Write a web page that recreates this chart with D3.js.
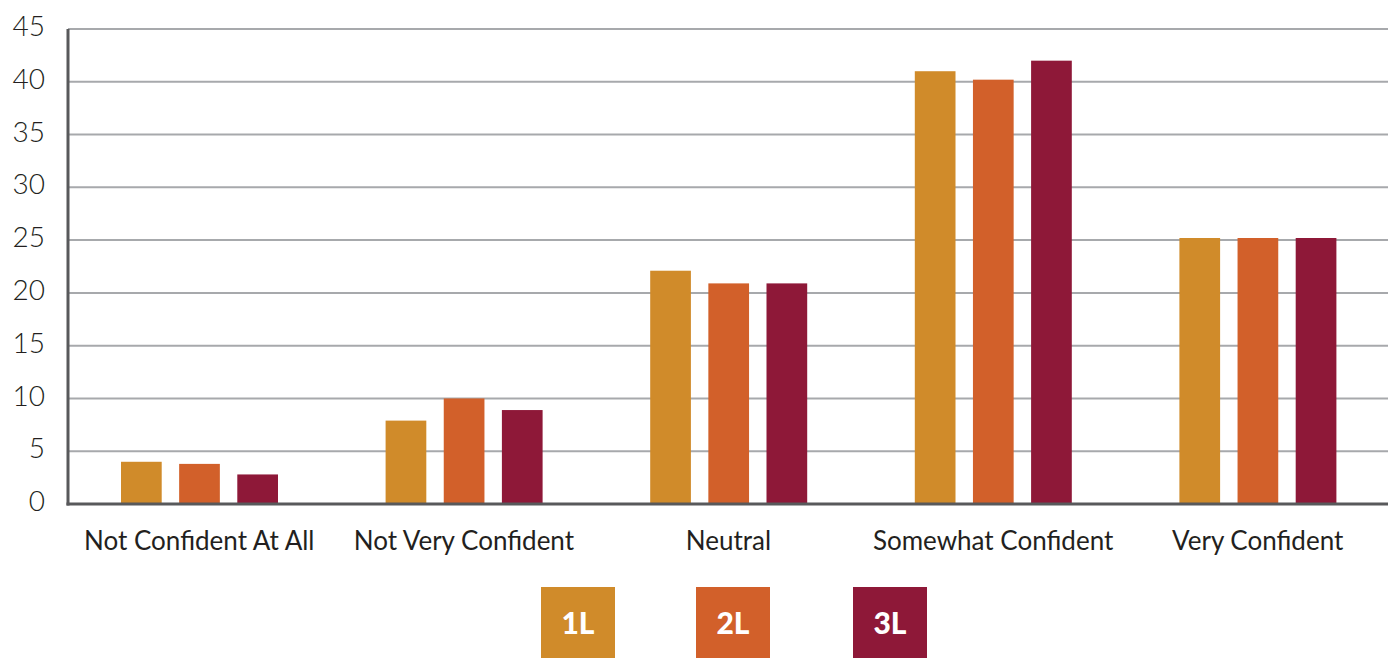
<!DOCTYPE html>
<html>
<head>
<meta charset="utf-8">
<script src="https://cdn.jsdelivr.net/npm/d3@7"></script>
<style>
  body { margin: 0; background: #fff; }
  text { font-family: Lato, "Open Sans", sans-serif; fill: #231f20; }
</style>
</head>
<body>
<div id="chart"></div>
<script>
var width = 1395;
var height = 658;

var categories = ["Not Confident At All", "Not Very Confident", "Neutral", "Somewhat Confident", "Very Confident"];
var series = ["1L", "2L", "3L"];
var colors = ["#d08b2a", "#d2602a", "#8e1838"];
var values1L = [4.0, 7.9, 22.1, 41.0, 25.2];
var values2L = [3.8, 10.0, 20.9, 40.2, 25.2];
var values3L = [2.8, 8.9, 20.9, 42.0, 25.2];
var yTicks = [0, 5, 10, 15, 20, 25, 30, 35, 40, 45];

var seriesValues = [values1L, values2L, values3L];

var margin = { top: 29, left: 68, right: 7, bottom: 154 };

var x0 = d3.scaleBand()
  .domain(categories)
  .range([margin.left, width - 4]);

var x1 = d3.scaleBand()
  .domain(series)
  .range([53, 210])
  .paddingInner(0.3);

var y = d3.scaleLinear()
  .domain([0, 45])
  .range([height - margin.bottom, margin.top]);

var color = d3.scaleOrdinal().domain(series).range(colors);

var svg = d3.select("#chart").append("svg")
  .attr("width", width)
  .attr("height", height);

// gridlines
svg.append("g")
  .selectAll("line")
  .data(yTicks.filter(function(d) { return d > 0; }))
  .enter().append("line")
  .attr("x1", margin.left)
  .attr("x2", width - margin.right)
  .attr("y1", function(d) { return y(d); })
  .attr("y2", function(d) { return y(d); })
  .attr("stroke", "#a7a9ac")
  .attr("stroke-width", 2);

// y tick labels
svg.append("g")
  .selectAll("text")
  .data(yTicks)
  .enter().append("text")
  .attr("x", 45)
  .attr("y", function(d) { return y(d) - 3; })
  .attr("dy", "0.36em")
  .attr("text-anchor", "end")
  .style("font-size", "28px")
  .style("font-weight", "300")
  .text(function(d) { return d; });

// bars
var groups = svg.append("g")
  .selectAll("g")
  .data(categories)
  .enter().append("g")
  .attr("transform", function(d) { return "translate(" + x0(d) + ",0)"; });

groups.selectAll("rect")
  .data(function(d, i) {
    return series.map(function(s, j) { return { key: s, value: seriesValues[j][i] }; });
  })
  .enter().append("rect")
  .attr("x", function(d) { return x1(d.key); })
  .attr("width", x1.bandwidth())
  .attr("y", function(d) { return y(d.value); })
  .attr("height", function(d) { return y(0) - y(d.value); })
  .attr("fill", function(d) { return color(d.key); });

// axes lines
svg.append("line")
  .attr("x1", margin.left)
  .attr("x2", margin.left)
  .attr("y1", margin.top)
  .attr("y2", y(0) + 1.5)
  .attr("stroke", "#58595b")
  .attr("stroke-width", 3);

svg.append("line")
  .attr("x1", margin.left - 1.5)
  .attr("x2", width - margin.right)
  .attr("y1", y(0))
  .attr("y2", y(0))
  .attr("stroke", "#58595b")
  .attr("stroke-width", 3);

// category labels
svg.append("g")
  .selectAll("text")
  .data(categories)
  .enter().append("text")
  .attr("x", function(d) { return x0(d) + x0.bandwidth() / 2 - 1; })
  .attr("y", 550)
  .attr("text-anchor", "middle")
  .style("font-size", "26px")
  .text(function(d) { return d; });

// legend
var legendX = [541, 696, 853];
var legend = svg.append("g")
  .selectAll("g")
  .data(series)
  .enter().append("g")
  .attr("transform", function(d, i) { return "translate(" + legendX[i] + ",587)"; });

legend.append("rect")
  .attr("width", 74)
  .attr("height", 71)
  .attr("fill", function(d) { return color(d); });

legend.append("text")
  .attr("x", 37)
  .attr("y", 36)
  .attr("dy", "0.36em")
  .attr("text-anchor", "middle")
  .style("font-size", "30px")
  .style("font-weight", "900")
  .style("fill", "#fff")
  .text(function(d) { return d; });
</script>
</body>
</html>
